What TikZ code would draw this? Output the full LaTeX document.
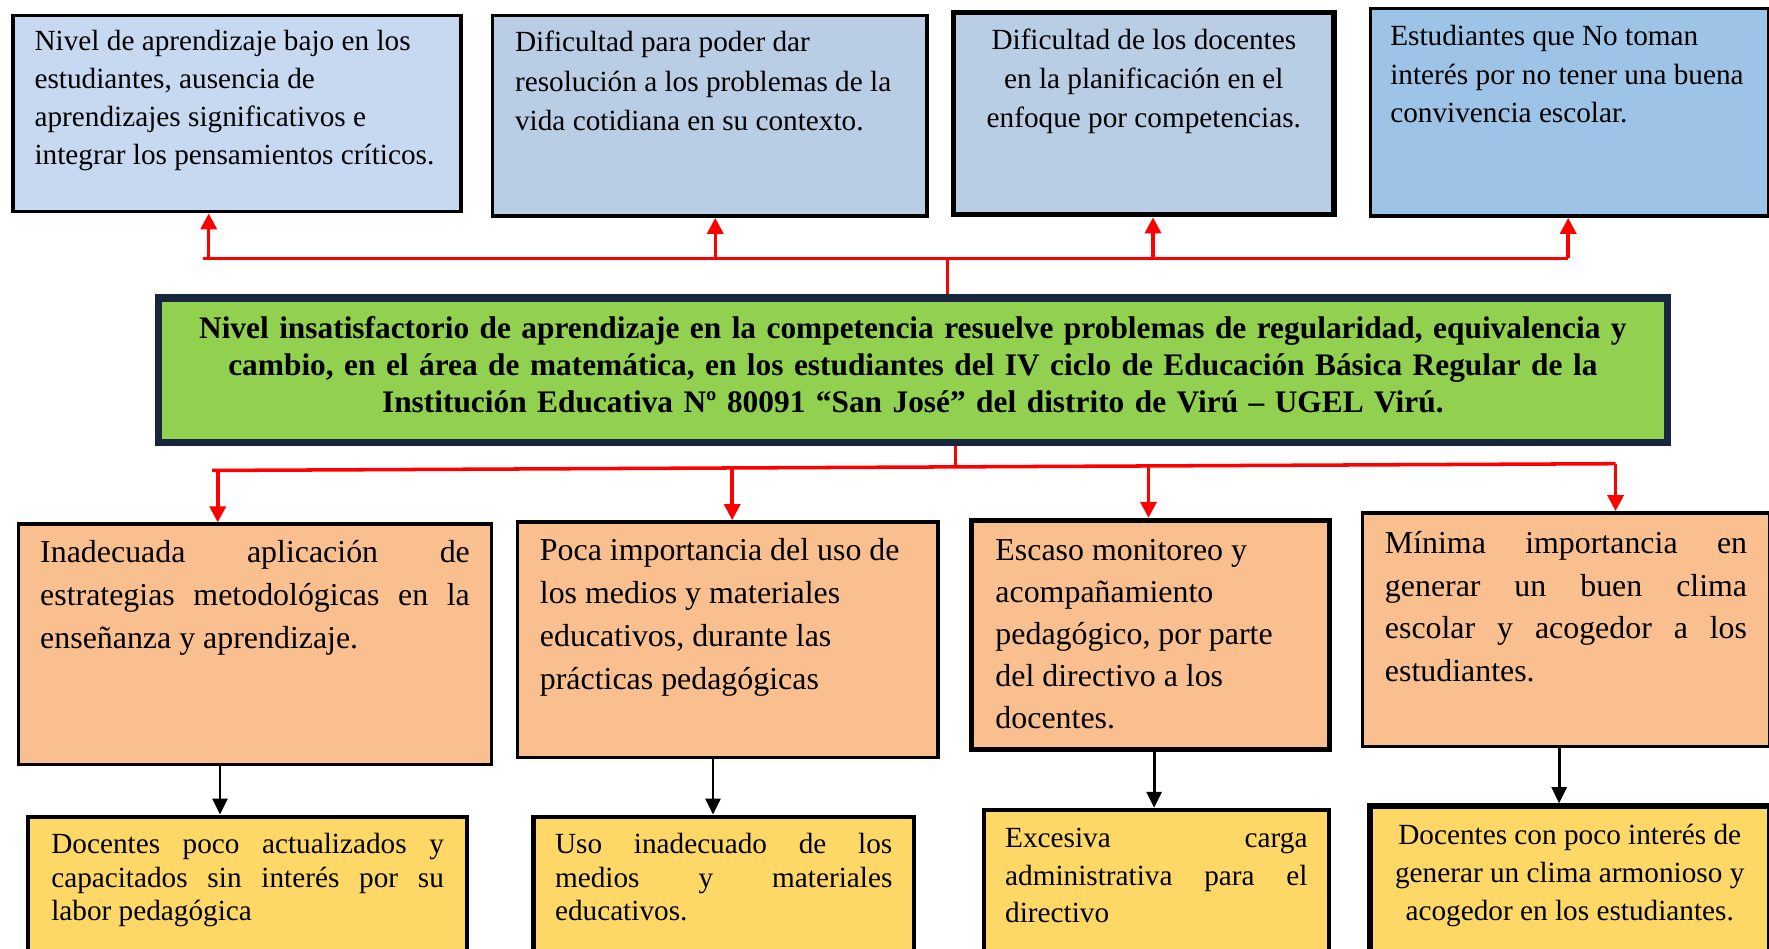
\documentclass[tikz,border=0pt]{standalone}
\usepackage{fontspec}
\setmainfont{Liberation Serif}
\usepackage{xcolor}
\usetikzlibrary{arrows.meta}
\hyphenpenalty=10000
\tolerance=10000

\definecolor{azulclaro}{HTML}{C6D9F1}
\definecolor{azulmedio}{HTML}{B9CDE5}
\definecolor{azulfuerte}{HTML}{9DC3E6}
\definecolor{verde}{HTML}{92D050}
\definecolor{marino}{HTML}{17253F}
\definecolor{naranja}{HTML}{FABF8F}
\definecolor{amarillo}{HTML}{FDD867}

\begin{document}
\begin{tikzpicture}[
  caja/.style={draw=black, line width=2pt, anchor=north west, inner xsep=0.43cm, inner ysep=0.33cm},
  rojo/.style={draw=red, line width=2pt},
  flecharoja/.style={rojo, -{Triangle[length=0.32cm,width=0.32cm]}},
  flechanegra/.style={draw=black, line width=1.6pt, -{Triangle[length=0.32cm,width=0.3cm]}}]
\useasboundingbox (0,0) rectangle (35.28,-18.9225);
\clip (0,0) rectangle (35.28,-18.9225);
% Efectos
\node[caja, fill=azulclaro, inner ysep=0.2925cm] (e1) at (0.225,-0.27)
  {\fontsize{16.6}{21.6}\selectfont\parbox[t][3.33cm][t]{8.0775cm}{\raggedright Nivel de aprendizaje bajo en los\\ estudiantes, ausencia de\\ aprendizajes significativos e\\ integrar los pensamientos críticos.}};
\node[caja, fill=azulmedio, inner xsep=0.45cm, inner ysep=0.315cm] (e2) at (9.7875,-0.27)
  {\fontsize{16.6}{22.3}\selectfont\parbox[t][3.375cm][t]{7.7625cm}{\raggedright Dificultad para poder dar\\ resolución a los problemas de la\\ vida cotidiana en su contexto.}};
\node[caja, fill=azulmedio, line width=3pt, inner xsep=0.3cm, inner ysep=0.315cm] (e3) at (18.9675,-0.2025)
  {\fontsize{16.6}{22.3}\selectfont\parbox[t][3.3975cm][t]{6.9825cm}{\centering Dificultad de los docentes\\ en la planificación en el\\ enfoque por competencias.}};
\node[caja, fill=azulfuerte, inner xsep=0.4cm, inner ysep=0.3375cm] (e4) at (27.2925,-0.135)
  {\fontsize{16.6}{21.8}\selectfont\parbox[t][3.465cm][t]{7.1425cm}{\raggedright Estudiantes que No toman\\ interés por no tener una buena\\ convivencia escolar.}};

% Problema
\node[draw=marino, line width=4pt, fill=verde, anchor=north west, minimum width=30.105cm, minimum height=2.88cm,
  text width=29.8cm, align=center, font=\bfseries\fontsize{17.8}{21}\selectfont] (prob) at (3.0825,-5.8725)
  {Nivel insatisfactorio de aprendizaje en la competencia resuelve problemas de regularidad, equivalencia y\\
   cambio, en el área de matemática, en los estudiantes del IV ciclo de Educación Básica Regular de la\\
   Institución Educativa Nº 80091 “San José” del distrito de Virú – UGEL Virú.\strut};

% Causas
\node[caja, fill=naranja] (c1) at (0.3375,-10.4175)
  {\fontsize{18.1}{24.3}\selectfont\parbox[t][4.1325cm][t]{8.5675cm}{Inadecuada aplicación de\linebreak estrategias metodológicas en la\linebreak enseñanza y aprendizaje.}};
\node[caja, fill=naranja, inner xsep=0.45cm] (c2) at (10.2825,-10.3725)
  {\fontsize{18.1}{24.3}\selectfont\parbox[t][4.0425cm][t]{7.4925cm}{\raggedright Poca importancia del uso de\\ los medios y materiales\\ educativos, durante las\\ prácticas pedagógicas}};
\node[caja, fill=naranja, line width=3pt, inner xsep=0.4725cm, inner ysep=0.375cm] (c3) at (19.3275,-10.3275)
  {\fontsize{18.1}{23.8}\selectfont\parbox[t][3.8175cm][t]{6.1875cm}{\raggedright Escaso monitoreo y\\ acompañamiento\\ pedagógico, por parte\\ del directivo a los\\ docentes.}};
\node[caja, fill=naranja, inner xsep=0.45cm, inner ysep=0.375cm] (c4) at (27.135,-10.1925)
  {\fontsize{18.1}{24.1}\selectfont\parbox[t][3.9075cm][t]{7.2225cm}{Mínima importancia en\linebreak generar un buen clima\linebreak escolar y acogedor a los\linebreak estudiantes.}};

% Subcausas
\node[caja, fill=amarillo, line width=2.5pt, inner xsep=0.4613cm, inner ysep=0.3375cm] (s1) at (0.5175,-16.245)
  {\fontsize{16.6}{18.9}\selectfont\parbox[t][3.375cm][t]{7.83cm}{Docentes poco actualizados y\linebreak capacitados sin interés por su\linebreak labor pedagógica}};
\node[caja, fill=amarillo, line width=2.5pt, inner xsep=0.4275cm, inner ysep=0.3375cm] (s2) at (10.5975,-16.245)
  {\fontsize{16.6}{18.9}\selectfont\parbox[t][3.375cm][t]{6.7275cm}{Uso inadecuado de los\linebreak medios y materiales\linebreak educativos.}};
\node[caja, fill=amarillo, line width=2.5pt, inner xsep=0.4275cm, inner ysep=0.36cm] (s3) at (19.575,-16.11)
  {\fontsize{16.6}{21.4}\selectfont\parbox[t][3.33cm][t]{6.03cm}{Excesiva carga\linebreak administrativa para el\linebreak directivo}};
\node[caja, fill=amarillo, line width=3pt, inner xsep=0.38cm, inner ysep=0.36cm] (s4) at (27.27,-16.02)
  {\fontsize{16.6}{21.7}\selectfont\parbox[t][3.33cm][t]{7.205cm}{\centering Docentes con poco interés de\\ generar un clima armonioso y\\ acogedor en los estudiantes.}};

% Conectores de arriba
\coordinate (ts) at (4.05,-5.1525);
\coordinate (jt) at (18.9,-5.1525);
\coordinate (t1) at (4.1625,-5.1525);
\coordinate (t2) at (14.265,-5.1525);
\coordinate (t3) at (22.995,-5.1525);
\coordinate (t4) at (31.275,-5.1525);
\draw[rojo] (prob.north -| jt) -- (jt);
\draw[rojo] (ts) -- (t4);
\draw[flecharoja] (t1) -- (t1 |- e1.south);
\draw[flecharoja] (t2) -- (t2 |- e2.south);
\draw[flecharoja] (t3) -- (t3 |- e3.south);
\draw[flecharoja] (t4) -- (t4 |- e4.south);

% Conectores de abajo
\coordinate (bs) at (4.23,-9.3825);
\coordinate (jb) at (19.0575,-9.31);
\coordinate (b1) at (4.3425,-9.38);
\coordinate (b2) at (14.6025,-9.33);
\coordinate (b3) at (22.905,-9.29);
\coordinate (b4) at (32.22,-9.2475);
\draw[rojo] (prob.south -| jb) -- (jb);
\draw[rojo] (bs) -- (b4);
\draw[flecharoja] (b1) -- (b1 |- c1.north);
\draw[flecharoja] (b2) -- (b2 |- c2.north);
\draw[flecharoja] (b3) -- (b3 |- c3.north);
\draw[flecharoja] (b4) -- (b4 |- c4.north);

% Flechas negras
\coordinate (k1) at (4.3875,0);
\coordinate (k2) at (14.22,0);
\coordinate (k3) at (23.0175,0);
\coordinate (k4) at (31.095,0);
\draw[flechanegra] (c1.south -| k1) -- (s1.north -| k1);
\draw[flechanegra] (c2.south -| k2) -- (s2.north -| k2);
\draw[flechanegra] (c3.south -| k3) -- (s3.north -| k3);
\draw[flechanegra] (c4.south -| k4) -- (s4.north -| k4);
\end{tikzpicture}
\end{document}
